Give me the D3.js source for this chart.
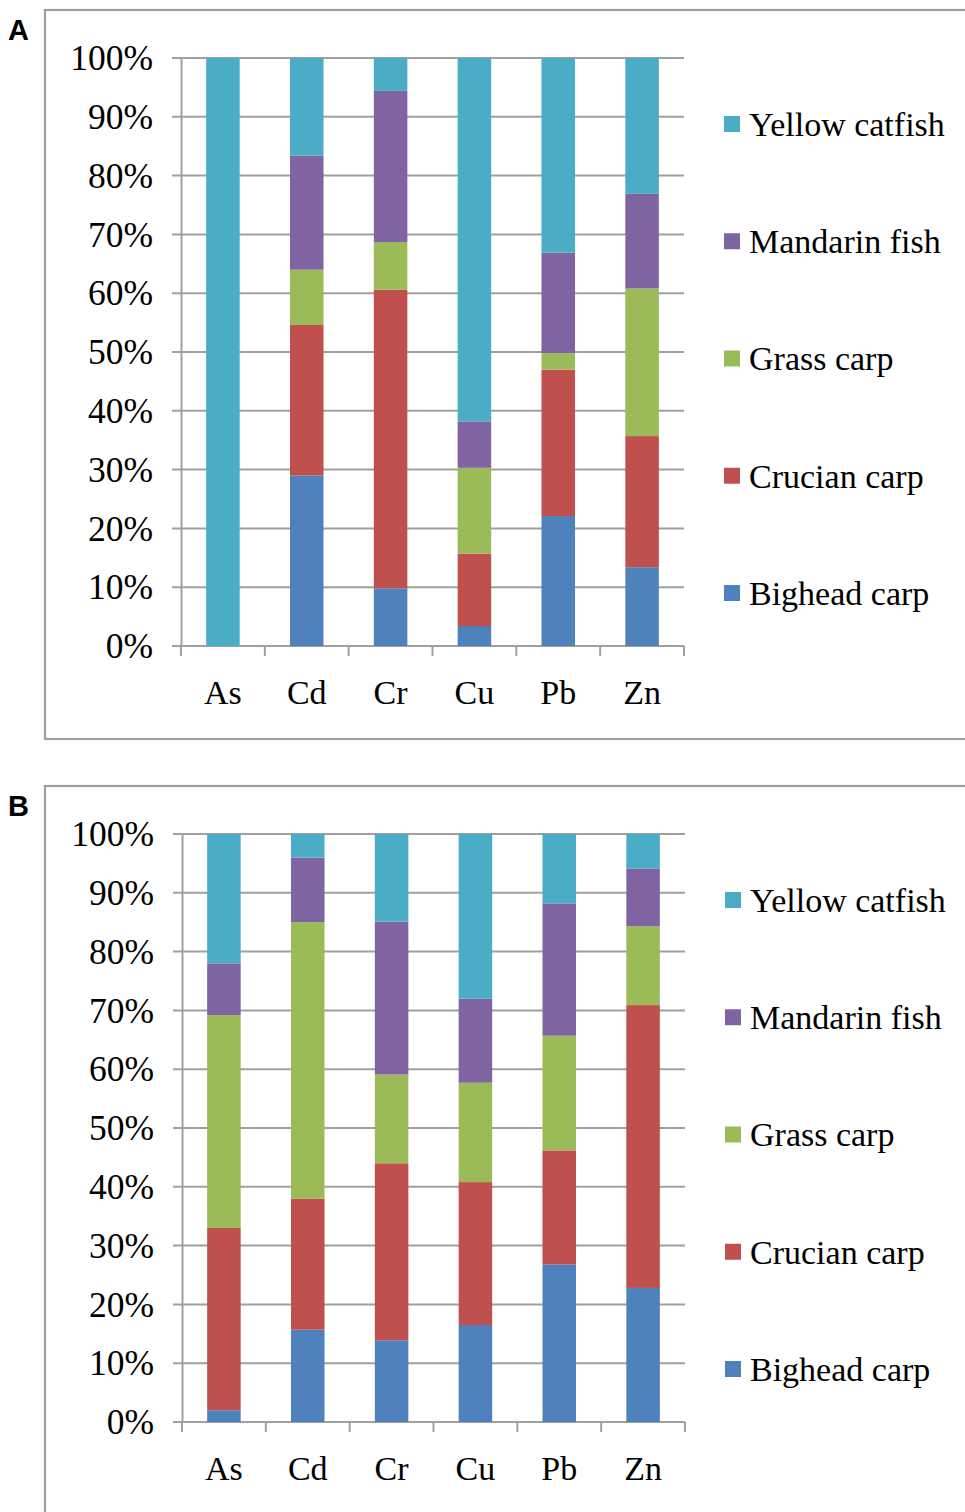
<!DOCTYPE html>
<html><head><meta charset="utf-8">
<script src="https://cdn.jsdelivr.net/npm/d3@7"></script>
<style>body{margin:0;background:#fff}</style>
</head><body>
<svg id="chart" width="965" height="1512"></svg>
<script>
const categories = ["As","Cd","Cr","Cu","Pb","Zn"];
const species = ["Bighead carp","Crucian carp","Grass carp","Mandarin fish","Yellow catfish"];
const colors = ["#4F81BD","#C0504D","#9BBB59","#8064A2","#4BACC6"];
const yTicks = [0,10,20,30,40,50,60,70,80,90,100];

// Panel A (%)
const aBighead  = [0, 29.0, 9.8, 3.4, 22.1, 13.4];
const aCrucian  = [0, 25.6, 50.8, 12.3, 24.9, 22.3];
const aGrass    = [0, 9.4, 8.1, 14.6, 2.8, 25.1];
const aMandarin = [0, 19.4, 25.7, 7.9, 17.1, 16.1];
const aYellow   = [100, 16.6, 5.6, 61.8, 33.1, 23.1];

// Panel B (%)
const bBighead  = [2.0, 15.7, 13.9, 16.5, 26.8, 22.8];
const bCrucian  = [31.0, 22.3, 30.1, 24.3, 19.4, 48.1];
const bGrass    = [36.2, 47.0, 15.1, 16.9, 19.5, 13.4];
const bMandarin = [8.8, 11.0, 26.0, 14.3, 22.5, 9.8];
const bYellow   = [22.0, 4.0, 14.9, 28.0, 11.8, 5.9];

const svg = d3.select("#chart");
const gridCol = "#a0a0a0";
const serif = "'Liberation Serif','DejaVu Serif',serif";

function panel(label, series, dy, dx){
  const g = svg.append("g").attr("transform", `translate(0,${dy})`);
  // frame
  g.append("rect").attr("x",45).attr("y",10).attr("width",960).attr("height",729)
    .attr("fill","none").attr("stroke",gridCol).attr("stroke-width",2.2);
  g.append("text").attr("x",8).attr("y",40).text(label)
    .attr("font-family","'Liberation Sans',Arial,sans-serif").attr("font-weight","bold")
    .attr("font-size",29).attr("fill","#000");

  const left=181+dx, right=684+dx, top=58, bottom=646;
  const x = d3.scaleBand().domain(categories).range([left,right]).paddingInner(0.6).paddingOuter(0.3);
  const y = d3.scaleLinear().domain([0,100]).range([bottom,top]);

  // gridlines
  g.append("g").selectAll("line").data(yTicks).join("line")
    .attr("x1",left-9).attr("x2",right).attr("y1",d=>y(d)).attr("y2",d=>y(d))
    .attr("stroke",gridCol).attr("stroke-width",2);

  // y axis
  const yAxis = d3.axisLeft(y).tickValues(yTicks).tickFormat(d=>d+"%").tickSize(0).tickPadding(28);
  const ya = g.append("g").attr("transform",`translate(${left},0)`).call(yAxis);
  ya.select(".domain").attr("stroke",gridCol).attr("stroke-width",2);
  ya.selectAll("text").attr("font-family",serif).attr("font-size",35.5).attr("fill","#000").attr("dy","0.33em");

  // x axis
  const xTickPos = d3.range(categories.length+1).map(i=>left+ i*(right-left)/categories.length);
  g.append("line").attr("x1",left).attr("x2",right).attr("y1",bottom).attr("y2",bottom)
    .attr("stroke",gridCol).attr("stroke-width",2);
  g.append("g").selectAll("line").data(xTickPos).join("line")
    .attr("x1",d=>d).attr("x2",d=>d).attr("y1",bottom).attr("y2",bottom+10)
    .attr("stroke",gridCol).attr("stroke-width",2);
  g.append("g").selectAll("text").data(categories).join("text")
    .attr("x",d=>x(d)+x.bandwidth()/2).attr("y",bottom+58).attr("text-anchor","middle")
    .attr("font-family",serif).attr("font-size",34).attr("fill","#000").text(d=>d);

  // stacked bars
  const rows = categories.map((c,i)=>{ const o={cat:c}; species.forEach((s,j)=>o[s]=series[j][i]); return o; });
  const stacked = d3.stack().keys(species)(rows);
  g.append("g").selectAll("g").data(stacked).join("g").attr("fill",(d,i)=>colors[i])
    .selectAll("rect").data(d=>d).join("rect")
    .attr("x",d=>x(d.data.cat)).attr("width",x.bandwidth())
    .attr("y",d=>y(d[1])).attr("height",d=>Math.max(0,y(d[0])-y(d[1])));

  // legend (reverse order)
  const legY = d3.scaleLinear().domain([0,4]).range([124,593]);
  const leg = g.append("g").selectAll("g").data(species.slice().reverse()).join("g")
    .attr("transform",(d,i)=>`translate(${724+dx},${legY(i)})`);
  leg.append("rect").attr("x",0).attr("y",-8).attr("width",16).attr("height",16)
    .attr("fill",d=>colors[species.indexOf(d)]);
  leg.append("text").attr("x",25).attr("y",0).attr("dy","0.35em")
    .attr("font-family",serif).attr("font-size",34).attr("fill","#000").text(d=>d);
}

panel("A", [aBighead,aCrucian,aGrass,aMandarin,aYellow], 0, 0);
panel("B", [bBighead,bCrucian,bGrass,bMandarin,bYellow], 776, 1);
</script>
</body></html>
